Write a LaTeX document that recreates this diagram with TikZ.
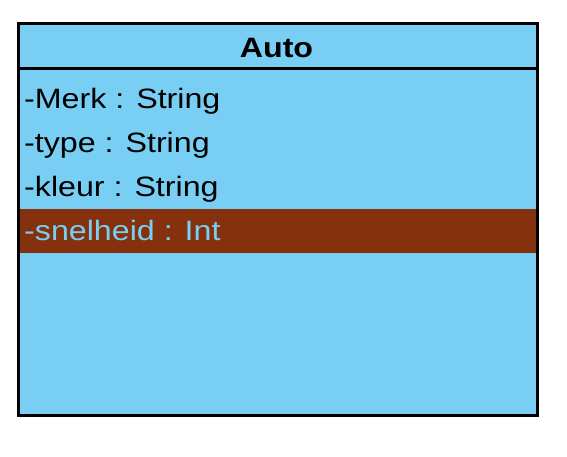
\documentclass[tikz,border=0pt]{standalone}
\usepackage{fontspec}
\newfontfamily\umlfont[FakeStretch=1.15]{Liberation Sans}
\definecolor{classblue}{HTML}{79CEF3}
\definecolor{selbrown}{HTML}{86310D}
\tikzset{
  attr/.style={anchor=base west, inner sep=0pt, font=\umlfont\fontsize{28}{28}\selectfont},
  title/.style={anchor=base, inner sep=0pt, font=\umlfont\bfseries\fontsize{28}{28}\selectfont},
}
\begin{document}
\begin{tikzpicture}[x=1pt,y=-1pt]
  \useasboundingbox (0,0) rectangle (567,456);
  \draw[line width=3pt, fill=classblue] (18.5,23.5) rectangle (537,415.5);
  \fill[selbrown] (20,209) rectangle (535.5,253);
  \coordinate (sepl) at (18.5,68.5);
  \coordinate (sepr) at (537,68.5);
  \draw[line width=3pt] (sepl) -- (sepr);
  \draw
    (276.5,57) node[title] (auto){Auto}
    (24,108) node[attr] (merk){-Merk : String}
    (24,152) node[attr] (type){-type : String}
    (24,196) node[attr] (kleur){-kleur : String}
    (24,240) node[attr, text=classblue] (snelheid){-snelheid : Int};
\end{tikzpicture}
\end{document}
